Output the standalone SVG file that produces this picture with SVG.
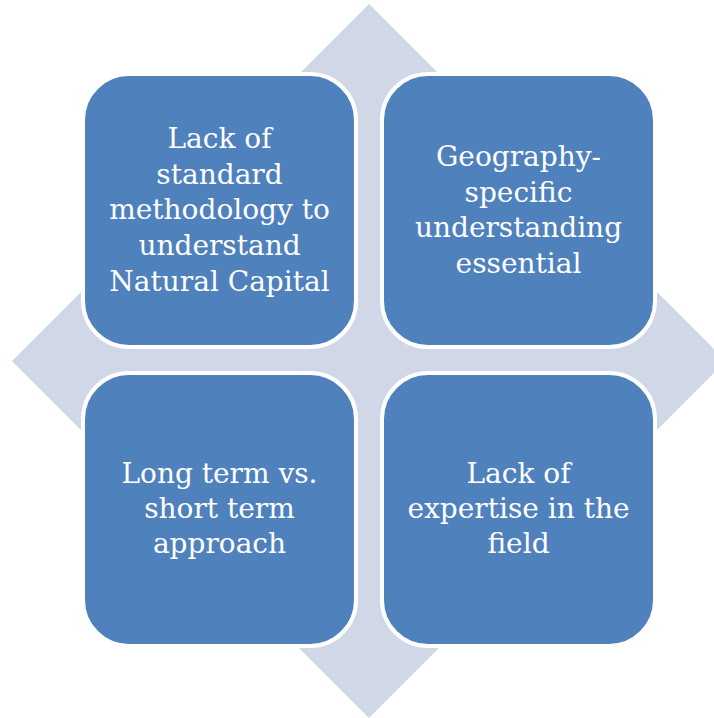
<svg xmlns="http://www.w3.org/2000/svg" width="714" height="718" viewBox="0 0 714 718">
<style>
.box{fill:#4f81bd;stroke:#ffffff;stroke-width:4}
.t{font-family:"DejaVu Serif","Liberation Serif",serif;font-size:28px;fill:#ffffff;text-anchor:middle}
</style>
<rect width="714" height="718" fill="#ffffff"/>
<g id="diamond"><polygon points="369,4 726,361 369,718 12,361" fill="#d0d8e8"/></g>
<g id="connectors"></g>
<g id="n1"><rect class="box" x="83" y="74" width="273" height="273" rx="46"/>
<text class="t"><tspan x="219.5" y="148">Lack of</tspan><tspan x="219.5" y="184">standard</tspan><tspan x="219.5" y="219">methodology to</tspan><tspan x="219.5" y="255">understand</tspan><tspan x="219.5" y="291">Natural Capital</tspan></text></g>
<g id="n2"><rect class="box" x="382" y="74" width="273" height="273" rx="46"/>
<text class="t"><tspan x="518.5" y="166">Geography-</tspan><tspan x="518.5" y="202">specific</tspan><tspan x="518.5" y="237">understanding</tspan><tspan x="518.5" y="273">essential</tspan></text></g>
<g id="n3"><rect class="box" x="83" y="373" width="273" height="273" rx="46"/>
<text class="t"><tspan x="219.5" y="483">Long term vs.</tspan><tspan x="219.5" y="518">short term</tspan><tspan x="219.5" y="553">approach</tspan></text></g>
<g id="n4"><rect class="box" x="382" y="373" width="273" height="273" rx="46"/>
<text class="t"><tspan x="518.5" y="483">Lack of</tspan><tspan x="518.5" y="518">expertise in the</tspan><tspan x="518.5" y="553">field</tspan></text></g>
</svg>
